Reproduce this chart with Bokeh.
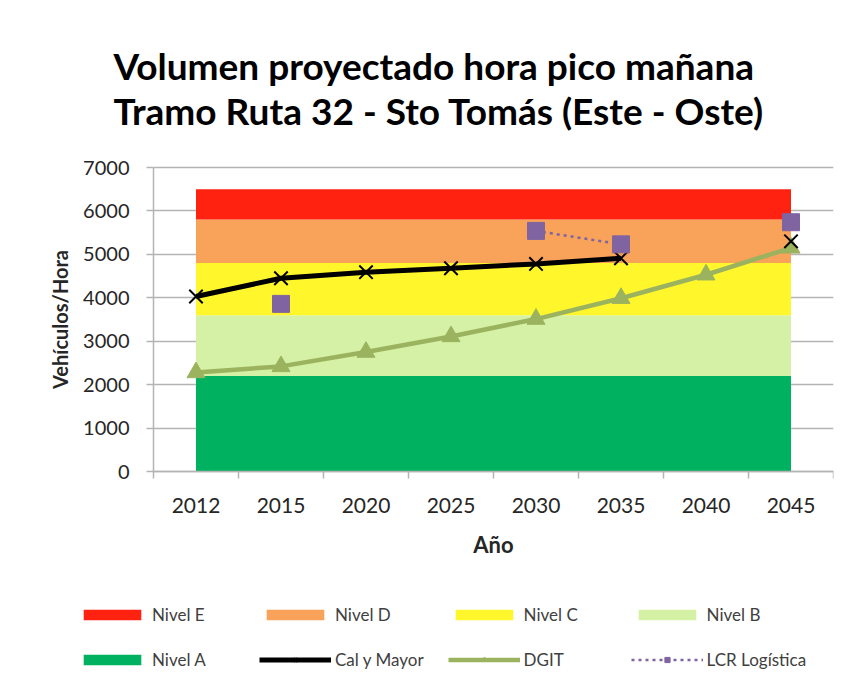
import numpy as np
from bokeh.plotting import figure
from bokeh.models import (ColumnDataSource, Range1d, FixedTicker, Legend, LegendItem)
from bokeh.embed import file_html
from bokeh.resources import INLINE

years = ["2012", "2015", "2020", "2025", "2030", "2035", "2040", "2045"]

# Service level bands (thickness of each stacked band, vehicles/hour)
nivel_a = [2200, 2200, 2200, 2200, 2200, 2200, 2200, 2200]
nivel_b = [1400, 1400, 1400, 1400, 1400, 1400, 1400, 1400]
nivel_c = [1200, 1200, 1200, 1200, 1200, 1200, 1200, 1200]
nivel_d = [1000, 1000, 1000, 1000, 1000, 1000, 1000, 1000]
nivel_e = [700, 700, 700, 700, 700, 700, 700, 700]

nan = np.nan
cal_y_mayor = [4030, 4450, 4590, 4680, 4780, 4910, nan, 5300]
dgit = [2280, 2420, 2750, 3110, 3510, 3990, 4530, 5150]
lcr_logistica = [nan, 3860, nan, nan, 5540, 5230, nan, 5740]

y_ticks = [0, 1000, 2000, 3000, 4000, 5000, 6000, 7000]

FONT = "Lato"
n = len(years)
xpos = [i + 0.5 for i in range(n)]

src = ColumnDataSource(dict(
    x=xpos,
    A=nivel_a, B=nivel_b, C=nivel_c, D=nivel_d, E=nivel_e,
    cal=np.array(cal_y_mayor, dtype=float),
    dgit=np.array(dgit, dtype=float),
    lcr=np.array(lcr_logistica, dtype=float),
))

# Layout in pixels.  The frame covers the whole area below the title so the
# legend (drawn inside it) is not clipped; the axes sit at data x=0 / y=0.
W, H = 852, 688
FRAME_L, AXIS_L, FRAME_R = 40, 153, 833
FRAME_T, AXIS_T, AXIS_B = 148, 167, 471
y_max = y_ticks[-1]
px_per_cat = (FRAME_R - AXIS_L) / n
px_per_val = (AXIS_B - AXIS_T) / y_max
x_start = -(AXIS_L - FRAME_L) / px_per_cat
y_start = -(H - AXIS_B) / px_per_val
y_end = y_max + (AXIS_T - FRAME_T) / px_per_val

p = figure(width=W, height=H, output_backend="svg", toolbar_location=None,
           x_range=Range1d(x_start, n), y_range=Range1d(y_start, y_end),
           min_border_left=FRAME_L, min_border_right=W - FRAME_R,
           min_border_top=FRAME_T, min_border_bottom=0)
p.outline_line_color = None
p.background_fill_color = "white"

gray = "#B4B4B4"
p.xgrid.grid_line_color = None
yg = p.ygrid[0]
yg.ticker = FixedTicker(ticks=y_ticks)
yg.grid_line_color = gray
yg.grid_line_width = 1.5
if "cross_bounds" in yg.properties():
    yg.cross_bounds = (0, n)
else:
    yg.grid_line_color = None
    p.segment(x0=[0] * len(y_ticks), x1=[n] * len(y_ticks), y0=y_ticks, y1=y_ticks,
              line_color=gray, line_width=1.5)

band_colors = ["#00B25F", "#D4F1A5", "#FFF62C", "#F8A25A", "#FF2210"]
bands = p.varea_stack(["A", "B", "C", "D", "E"], x="x", source=src, color=band_colors)

r_dgit_l = p.line("x", "dgit", source=src, line_color="#9BB35F", line_width=4.5)
r_dgit_m = p.scatter("x", "dgit", source=src, marker="triangle", size=18,
                     fill_color="#9BB35F", line_color="#9BB35F")
r_cal_l = p.line("x", "cal", source=src, line_color="black", line_width=5)
r_cal_m = p.scatter("x", "cal", source=src, marker="x", size=19,
                    line_color="black", line_width=2)
r_lcr_l = p.line("x", "lcr", source=src, line_color="#8064A2", line_width=2.5, line_dash="3 4")
r_lcr_m = p.scatter("x", "lcr", source=src, marker="square", size=17,
                    fill_color="#8064A2", line_color="#8064A2")

# X axis (at y = 0)
xa = p.xaxis[0]
xa.fixed_location = 0
xa.bounds = (0, n)
xa.ticker = FixedTicker(ticks=xpos, minor_ticks=list(range(n + 1)))
xa.major_label_overrides = {x: y for x, y in zip(xpos, years)}
xa.major_tick_out = 0
xa.major_tick_in = 0
xa.minor_tick_out = 7
xa.minor_tick_in = 0
xa.minor_tick_line_color = gray
xa.minor_tick_line_width = 1.5
xa.axis_line_color = gray
xa.axis_line_width = 1.5
xa.major_label_standoff = 19
xa.major_label_text_font = FONT
xa.major_label_text_font_size = "21px"
xa.major_label_text_color = "#262626"
xa.axis_label = "Año"
xa.axis_label_text_font = FONT
xa.axis_label_text_font_style = "bold"
xa.axis_label_text_font_size = "22px"
xa.axis_label_text_color = "#262626"
xa.axis_label_standoff = 15

# Y axis (at x = 0, start of the category axis)
ya = p.yaxis[0]
ya.fixed_location = 0
ya.bounds = (0, y_max)
ya.ticker = FixedTicker(ticks=y_ticks)
ya.major_tick_out = 7
ya.major_tick_in = 0
ya.minor_tick_line_color = None
ya.major_tick_line_color = gray
ya.major_tick_line_width = 1.5
ya.axis_line_color = gray
ya.axis_line_width = 1.5
ya.major_label_standoff = 17
ya.major_label_text_font = FONT
ya.major_label_text_font_size = "20px"
ya.major_label_text_color = "#262626"
ya.axis_label = "Vehículos/Hora"
ya.axis_label_text_font = FONT
ya.axis_label_text_font_style = "bold"
ya.axis_label_text_font_size = "20px"
ya.axis_label_text_color = "#262626"
ya.axis_label_standoff = 8

# Title (two lines)
p.title.text = "Volumen proyectado hora pico mañana\nTramo Ruta 32 - Sto Tomás (Este - Oste)"
p.title.align = "left"
p.title.offset = 113 - FRAME_L
p.title.text_font = FONT
p.title.text_font_size = "37px"
p.title.text_font_style = "bold"
p.title.text_color = "black"
p.title.standoff = 32

items = [
    LegendItem(label="Nivel E", renderers=[bands[4]]),
    LegendItem(label="Nivel D", renderers=[bands[3]]),
    LegendItem(label="Nivel C", renderers=[bands[2]]),
    LegendItem(label="Nivel B", renderers=[bands[1]]),
    LegendItem(label="Nivel A", renderers=[bands[0]]),
    LegendItem(label="Cal y Mayor", renderers=[r_cal_l, r_cal_m]),
    LegendItem(label="DGIT", renderers=[r_dgit_l, r_dgit_m]),
    LegendItem(label="LCR Logística", renderers=[r_lcr_l, r_lcr_m]),
]
LEG_L, LEG_B = 76, 670
legend = Legend(items=items, orientation="horizontal", ncols=4,
                location=(LEG_L - FRAME_L, H - LEG_B),
                glyph_width=72, glyph_height=13, label_height=20, label_width=83,
                label_standoff=4, spacing=24, padding=0, margin=0,
                border_line_color=None, background_fill_alpha=0,
                label_text_font=FONT, label_text_font_size="17px", label_text_color="#404040")
p.add_layout(legend, "center")

open("out.html", "w").write(file_html(p, INLINE))
